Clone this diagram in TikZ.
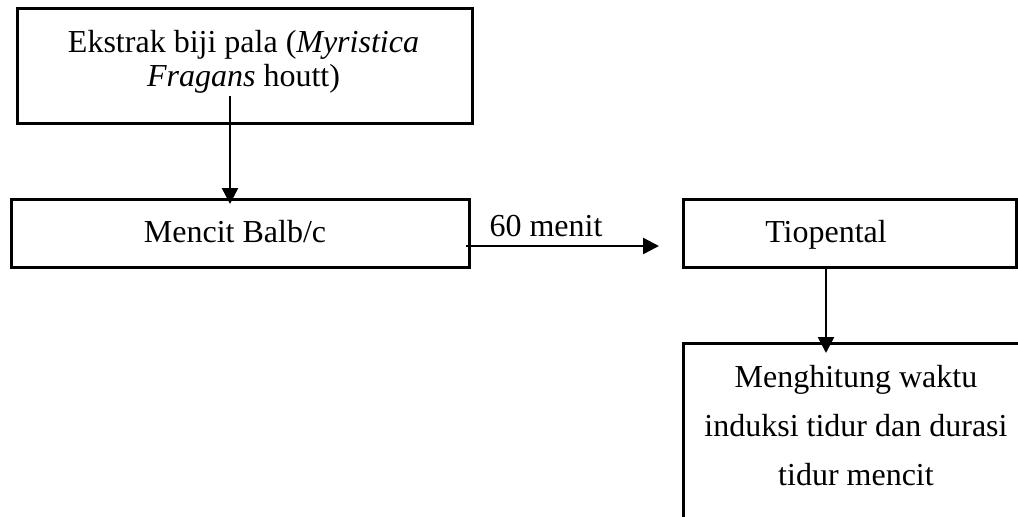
\documentclass[tikz,border=0pt]{standalone}
\usepackage{fontspec}
\setmainfont{Liberation Serif}
\usetikzlibrary{arrows.meta}
\begin{document}
\begin{tikzpicture}[x=0.5pt,y=-0.5pt,
  box/.style={draw, line width=1.25pt, rectangle, inner sep=0pt, anchor=north west},
  lbl/.style={font=\fontsize{16}{17}\selectfont, inner sep=0pt, align=center},
  conn/.style={line width=1.25pt, -{Triangle[length=8pt,width=8pt]}}]
\useasboundingbox (0,0) rectangle (1018,516);
\clip (0,0) rectangle (1018,516);
\fill[white] (0,0) rectangle (1018,516);
% boxes
\node[box, minimum width=227.5pt, minimum height=57.5pt] (b1) at (16,7) {};
\node[box, minimum width=229pt, minimum height=34pt] (b2) at (10,198) {};
\node[box, minimum width=166.5pt, minimum height=34pt] (b3) at (682,198) {};
\node[box, minimum width=180pt, minimum height=110pt] (b4) at (682,342) {};
% texts
\node[lbl] (t1) at (243.5,62) {Ekstrak biji pala (\textit{Myristica}\\\textit{Fragans} houtt)};
\node[lbl] (t2) at (235,232) {Mencit Balb/c};
\node[lbl] (t3) at (826,235) {Tiopental};
\node[lbl, font=\fontsize{16}{24.5}\selectfont] (t4) at (856,426) {Menghitung waktu\\induksi tidur dan durasi\\tidur mencit};
\node[lbl, anchor=base] (t5) at (546,236) {60 menit};
% connector coordinates
\coordinate (s1) at (230,96);
\coordinate (s2) at (466,246);
\coordinate (e2) at (659,246);
\coordinate (s3) at (826,269);
% connectors
\draw[conn, shorten >=-3pt] (s1) -- (s1 |- b2.north);
\draw[conn] (s2) -- (e2);
\draw[conn, shorten >=-5.5pt] (s3) -- (s3 |- b4.north);
\end{tikzpicture}
\end{document}
